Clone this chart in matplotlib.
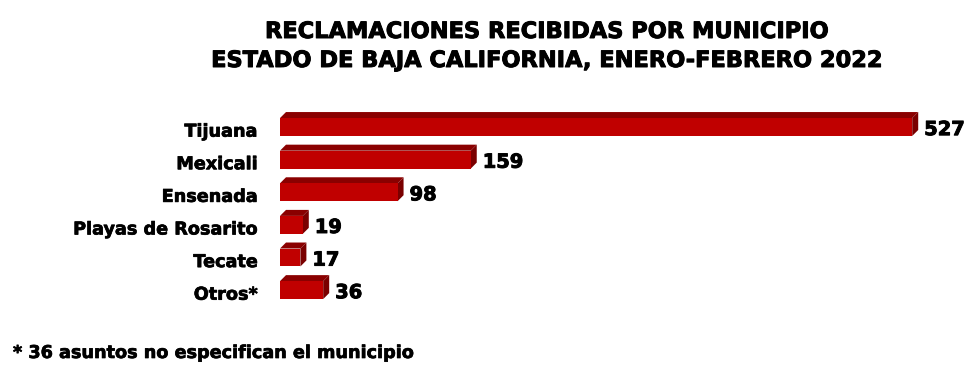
import matplotlib
matplotlib.use("Agg")
import matplotlib.pyplot as plt
import matplotlib.patheffects as pe
from matplotlib.patches import Polygon

municipios = ["Tijuana", "Mexicali", "Ensenada", "Playas de Rosarito", "Tecate", "Otros*"]
reclamaciones = [527, 159, 98, 19, 17, 36]

titulo1 = "RECLAMACIONES RECIBIDAS POR MUNICIPIO"
titulo2 = "ESTADO DE BAJA CALIFORNIA, ENERO-FEBRERO 2022"
nota = "* 36 asuntos no especifican el municipio"

plt.rcParams["font.family"] = ["DejaVu Sans"]
plt.rcParams["font.weight"] = "bold"
grueso = [pe.withStroke(linewidth=0.7, foreground="black")]

W, H = 965, 367
fig = plt.figure(figsize=(W / 100, H / 100), dpi=100)
# axes placed in pixel terms
ax = fig.add_axes([280 / W, (H - 310) / H, 685 / W, 205 / H])
ax.set_xlim(0, 571)
ax.set_ylim(5.61, -0.675)

front = "#c00000"
top_c = "#8a0000"
side_c = "#7a0000"
alto = 0.55
dx = 5.0     # depth in x data units (~6px)
dy = 0.184   # depth in y data units (~6px)

ys = list(range(len(municipios)))
ax.barh(ys, reclamaciones, height=alto, color=front, zorder=3)
for y, v in zip(ys, reclamaciones):
    y0 = y - alto / 2  # upper edge (axis inverted)
    y1 = y + alto / 2
    tapa = Polygon([(0, y0), (v, y0), (v + dx, y0 - dy), (dx, y0 - dy)],
                   closed=True, color=top_c, lw=0, zorder=2)
    lado = Polygon([(v, y0), (v + dx, y0 - dy), (v + dx, y1 - dy), (v, y1)],
                   closed=True, color=side_c, lw=0, zorder=2)
    ax.add_patch(tapa)
    ax.add_patch(lado)
    ax.text(v + dx + 5, y + 0.08, str(v), va="center", ha="left",
            fontsize=14, fontweight="bold", color="black", path_effects=grueso)

ax.set_yticks([y + 0.08 for y in ys])
ax.set_yticklabels(municipios, fontsize=12.7, fontweight="bold")
for lbl in ax.get_yticklabels():
    lbl.set_path_effects([pe.withStroke(linewidth=0.5, foreground="black")])
ax.tick_params(axis="y", length=0, pad=16)
ax.set_xticks([])
for s in ax.spines.values():
    s.set_visible(False)

fig.text(548 / W, 1 - 32 / H, titulo1, ha="center", va="center",
         fontsize=16.2, fontweight="bold", path_effects=grueso)
fig.text(548 / W, 1 - 61 / H, titulo2, ha="center", va="center",
         fontsize=16.2, fontweight="bold", path_effects=grueso)
fig.text(13 / W, 1 - 353 / H, nota, ha="left", va="center",
         fontsize=12.7, fontweight="bold",
         path_effects=[pe.withStroke(linewidth=0.5, foreground="black")])

fig.savefig("out.png", dpi=100)
